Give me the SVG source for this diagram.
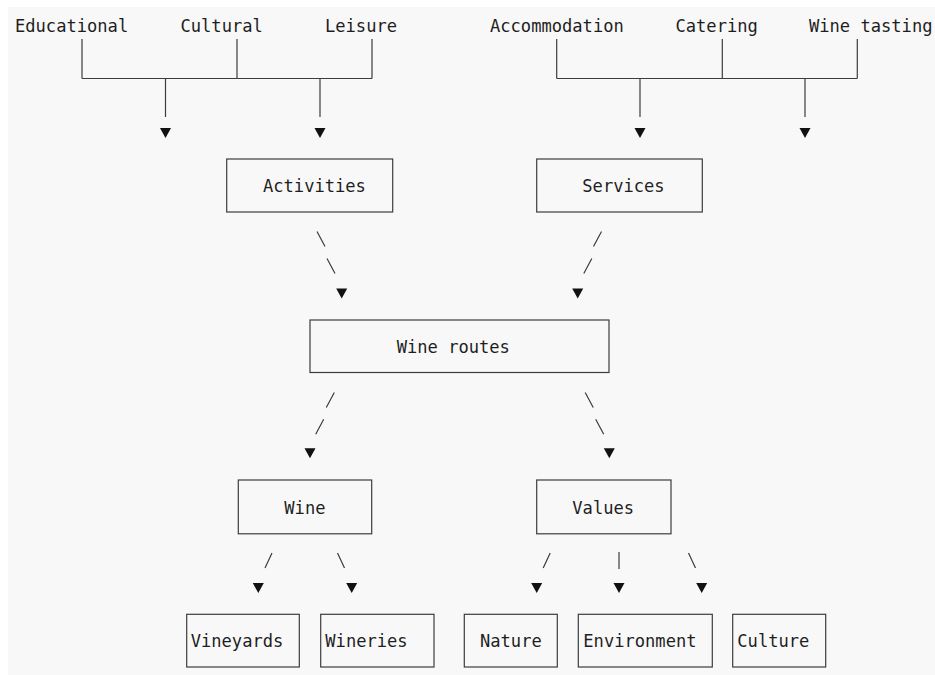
<svg xmlns="http://www.w3.org/2000/svg" xmlns:xlink="http://www.w3.org/1999/xlink" width="935" height="675" viewBox="0 0 935 675">
  <style>
    .t { font-family: "DejaVu Sans Mono", "Liberation Mono", monospace; font-size: 17.1px; fill: #1e1e1e; }
    .box { fill: none; stroke: #3c3c3c; stroke-width: 1.2; }
    .ln { fill: none; stroke: #3c3c3c; stroke-width: 1.2; }
    .ar { fill: #111; }
  </style>
  <defs>
    <path id="arr" d="M-5.5,-4.5 L5.5,-4.5 L0,5.5 Z"/>
  </defs>
  <rect x="0" y="0" width="935" height="675" fill="#ffffff"/>
  <rect x="8" y="7" width="927" height="668" fill="#f8f8f8"/>

  <g id="connectors">
    <path class="ln" d="M82,39 V78.5 M237,39 V78.5 M372,39 V78.5 M82,78.5 H372 M165.5,78.5 V117 M320,78.5 V117"/>
    <path class="ln" d="M556.7,39 V78.5 M722.3,39 V78.5 M857.3,39 V78.5 M556.7,78.5 H857.3 M640,78.5 V117 M805,78.5 V117"/>
    <use href="#arr" class="ar" x="165.5" y="132.5"/>
    <use href="#arr" class="ar" x="320" y="132.5"/>
    <use href="#arr" class="ar" x="640" y="132.5"/>
    <use href="#arr" class="ar" x="805" y="132.5"/>

    <path class="ln" d="M317,231.5 L325,246.5 M327,258.5 L335,273.5"/>
    <use href="#arr" class="ar" x="341.7" y="293"/>
    <path class="ln" d="M601.5,231.5 L593.5,246.5 M591.8,258.5 L583.8,273.5"/>
    <use href="#arr" class="ar" x="577.7" y="293"/>

    <path class="ln" d="M334.3,392.5 L326.3,407.5 M323.7,419.2 L315.7,434.2"/>
    <use href="#arr" class="ar" x="310" y="452.8"/>
    <path class="ln" d="M585.2,392.5 L593.2,407.5 M595.7,419.2 L603.7,434.2"/>
    <use href="#arr" class="ar" x="609.3" y="452.8"/>

    <path class="ln" d="M272,553 L265,568 M337.5,553 L344.5,568 M550.2,553 L543.2,568 M619,552 V569 M688.5,553 L695.5,568"/>
    <use href="#arr" class="ar" x="258.3" y="587.6"/>
    <use href="#arr" class="ar" x="351.7" y="587.6"/>
    <use href="#arr" class="ar" x="536.7" y="587.6"/>
    <use href="#arr" class="ar" x="619" y="587.6"/>
    <use href="#arr" class="ar" x="701.7" y="587.6"/>
  </g>

  <g id="educational"><text class="t" x="15" y="31.5">Educational</text></g>
  <g id="cultural"><text class="t" x="180.5" y="31.5">Cultural</text></g>
  <g id="leisure"><text class="t" x="325" y="31.5">Leisure</text></g>
  <g id="accommodation"><text class="t" x="490" y="31.5">Accommodation</text></g>
  <g id="catering"><text class="t" x="675.5" y="31.5">Catering</text></g>
  <g id="wine-tasting"><text class="t" x="809" y="31.5">Wine tasting</text></g>

  <g id="activities">
    <rect class="box" x="226.7" y="159" width="166" height="53"/>
    <text class="t" x="263" y="192.3">Activities</text>
  </g>
  <g id="services">
    <rect class="box" x="536.7" y="159" width="165.6" height="53"/>
    <text class="t" x="582.3" y="192.3">Services</text>
  </g>
  <g id="wine-routes">
    <rect class="box" x="310" y="320" width="299" height="52.5"/>
    <text class="t" x="396.7" y="352.8">Wine routes</text>
  </g>
  <g id="wine">
    <rect class="box" x="238.3" y="480" width="133.4" height="53.8"/>
    <text class="t" x="284.3" y="513.5">Wine</text>
  </g>
  <g id="values">
    <rect class="box" x="536.7" y="480" width="134.3" height="53.8"/>
    <text class="t" x="572.3" y="513.5">Values</text>
  </g>
  <g id="vineyards">
    <rect class="box" x="186.7" y="614.3" width="112.6" height="52.7"/>
    <text class="t" x="190.7" y="647">Vineyards</text>
  </g>
  <g id="wineries">
    <rect class="box" x="320.7" y="614.3" width="113.3" height="52.7"/>
    <text class="t" x="325.3" y="647">Wineries</text>
  </g>
  <g id="nature">
    <rect class="box" x="464.3" y="614.3" width="93" height="52.7"/>
    <text class="t" x="480" y="647">Nature</text>
  </g>
  <g id="environment">
    <rect class="box" x="578.3" y="614.3" width="134" height="52.7"/>
    <text class="t" x="583.3" y="647">Environment</text>
  </g>
  <g id="culture">
    <rect class="box" x="732.7" y="614.3" width="93" height="52.7"/>
    <text class="t" x="737.3" y="647">Culture</text>
  </g>
</svg>
